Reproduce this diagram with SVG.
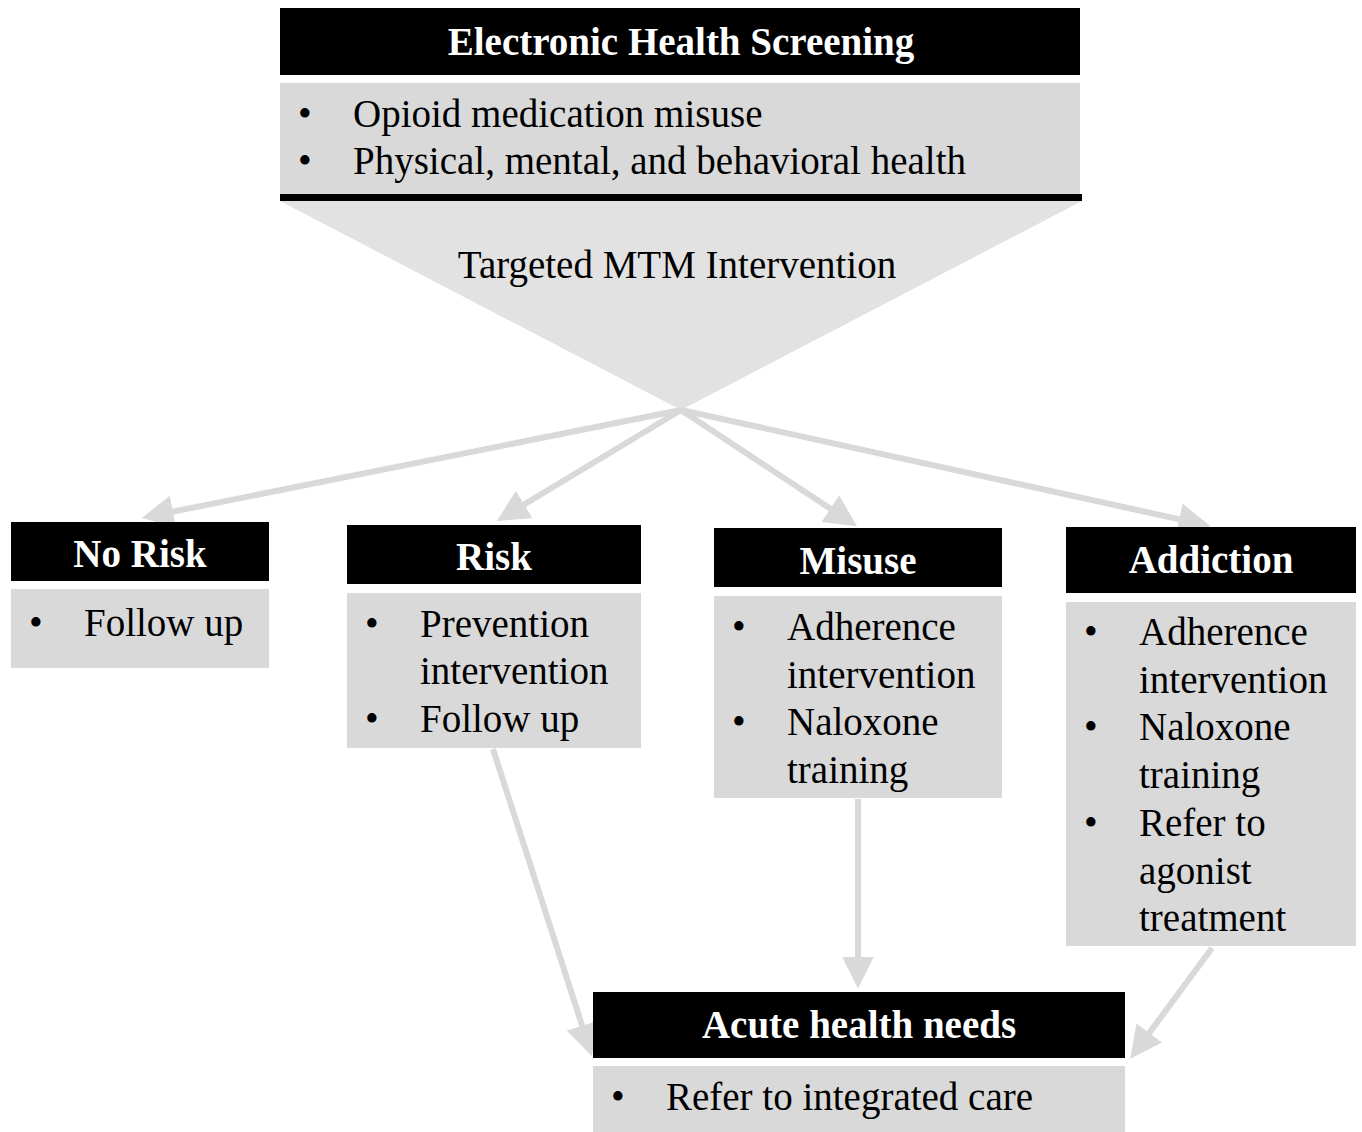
<svg xmlns="http://www.w3.org/2000/svg" width="1362" height="1132" viewBox="0 0 1362 1132">
<defs>
<style>
.hdr{fill:#000}
.body{fill:#d9d9d9}
.tri{fill:#e2e2e2}
.title{font-family:"Liberation Serif","Times New Roman",serif;font-weight:bold;font-size:39px;fill:#fff;text-anchor:middle}
.txt{font-family:"Liberation Serif","Times New Roman",serif;font-size:39px;fill:#000}
.conn{stroke:#d9d9d9;stroke-width:6;fill:none;marker-end:url(#arr)}
</style>
<marker id="arr" viewBox="0 0 10 10" refX="7" refY="5" markerWidth="32" markerHeight="32" markerUnits="userSpaceOnUse" orient="auto">
<path d="M0,0 L10,5 L0,10 z" fill="#d9d9d9"/>
</marker>
</defs>
<rect width="1362" height="1132" fill="#fff"/>

<g id="screening">
<rect class="hdr" x="280" y="8" width="800" height="67"/>
<text class="title" x="681" y="55">Electronic Health Screening</text>
<rect class="body" x="280" y="83" width="800" height="111"/>
<text class="txt" x="298" y="127">•</text>
<text class="txt" x="353" y="127">Opioid medication misuse</text>
<text class="txt" x="298" y="174">•</text>
<text class="txt" x="353" y="174">Physical, mental, and behavioral health</text>
<rect class="hdr" x="280" y="194" width="802" height="7"/>
</g>

<g id="mtm">
<polygon class="tri" points="280,201 1082,201 681,410"/>
<text class="txt" x="677" y="278" text-anchor="middle">Targeted MTM Intervention</text>
</g>

<g id="connectors">
<line class="conn" x1="681" y1="410" x2="151" y2="516"/>
<line class="conn" x1="681" y1="410" x2="505" y2="516"/>
<line class="conn" x1="681" y1="410" x2="849" y2="521"/>
<line class="conn" x1="681" y1="410" x2="1201" y2="524"/>
<line class="conn" x1="493" y1="749" x2="589" y2="1047"/>
<line class="conn" x1="858" y1="799" x2="858" y2="979"/>
<line class="conn" x1="1212" y1="948" x2="1136" y2="1051"/>
</g>

<g id="norisk">
<rect class="hdr" x="11" y="522" width="258" height="59"/>
<text class="title" x="140" y="567">No Risk</text>
<rect class="body" x="11" y="589" width="258" height="79"/>
<text class="txt" x="29" y="636">•</text>
<text class="txt" x="84" y="636">Follow up</text>
</g>

<g id="risk">
<rect class="hdr" x="347" y="525" width="294" height="59"/>
<text class="title" x="494" y="570">Risk</text>
<rect class="body" x="347" y="593" width="294" height="155"/>
<text class="txt" x="365" y="637">•</text>
<text class="txt" x="420" y="637">Prevention</text>
<text class="txt" x="420" y="684">intervention</text>
<text class="txt" x="365" y="732">•</text>
<text class="txt" x="420" y="732">Follow up</text>
</g>

<g id="misuse">
<rect class="hdr" x="714" y="528" width="288" height="59"/>
<text class="title" x="858" y="574">Misuse</text>
<rect class="body" x="714" y="596" width="288" height="202"/>
<text class="txt" x="732" y="640">•</text>
<text class="txt" x="787" y="640">Adherence</text>
<text class="txt" x="787" y="688">intervention</text>
<text class="txt" x="732" y="735">•</text>
<text class="txt" x="787" y="735">Naloxone</text>
<text class="txt" x="787" y="783">training</text>
</g>

<g id="addiction">
<rect class="hdr" x="1066" y="527" width="290" height="66"/>
<text class="title" x="1211" y="573">Addiction</text>
<rect class="body" x="1066" y="602" width="290" height="344"/>
<text class="txt" x="1084" y="645">•</text>
<text class="txt" x="1139" y="645">Adherence</text>
<text class="txt" x="1139" y="693">intervention</text>
<text class="txt" x="1084" y="740">•</text>
<text class="txt" x="1139" y="740">Naloxone</text>
<text class="txt" x="1139" y="788">training</text>
<text class="txt" x="1084" y="836">•</text>
<text class="txt" x="1139" y="836">Refer to</text>
<text class="txt" x="1139" y="884">agonist</text>
<text class="txt" x="1139" y="931">treatment</text>
</g>

<g id="acute">
<rect class="hdr" x="593" y="992" width="532" height="66"/>
<text class="title" x="859" y="1038">Acute health needs</text>
<rect class="body" x="593" y="1066" width="532" height="66"/>
<text class="txt" x="611" y="1110">•</text>
<text class="txt" x="666" y="1110">Refer to integrated care</text>
</g>
</svg>
